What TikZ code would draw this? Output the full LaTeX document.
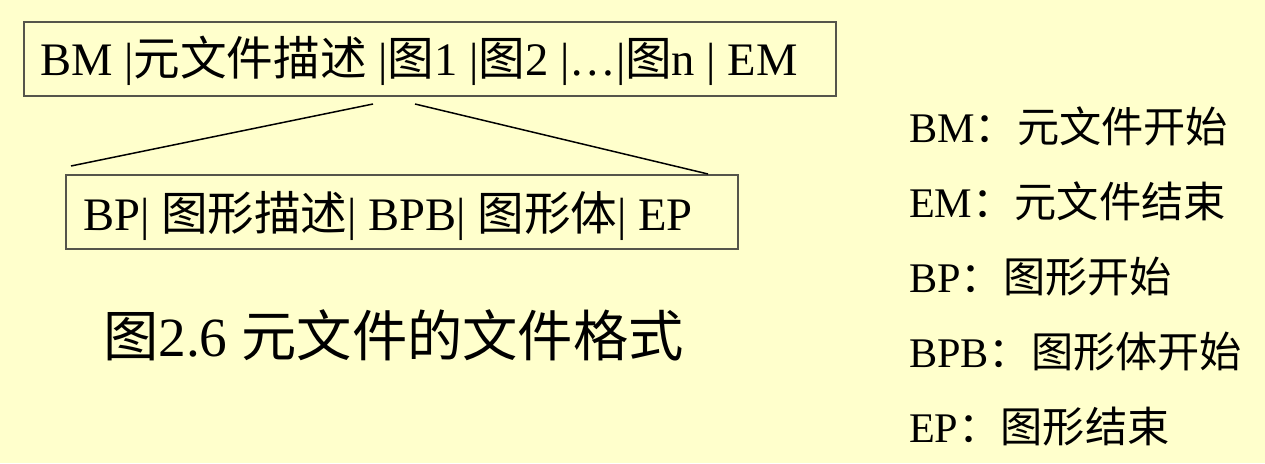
\documentclass[tikz,border=0pt]{standalone}
\usepackage{fontspec}
\setmainfont{Liberation Serif}
\newfontfamily\cjk{Noto Sans CJK SC}
\definecolor{bgyellow}{RGB}{255,255,204}
\definecolor{boxline}{RGB}{85,85,75}
\begin{document}
\begin{tikzpicture}[x=1pt,y=-1pt,
  framebox/.style={draw=boxline, line width=1.6pt, inner sep=0pt, anchor=north west},
  bigtxt/.style={anchor=base west, inner sep=0pt, font=\fontsize{46.6}{50}\selectfont},
  captxt/.style={anchor=base west, inner sep=0pt, font=\fontsize{55.3}{60}\selectfont},
  legtxt/.style={anchor=base west, inner sep=0pt, font=\fontsize{42.2}{46}\selectfont},
  conn/.style={draw=black, line width=1.5pt}]
\fill[bgyellow] (0,0) rectangle (1265,463);
\useasboundingbox (0,0) rectangle (1265,463);
% top box
\node[framebox, minimum width=812pt, minimum height=74pt] (topbox) at (23,21) {};
\node[bigtxt] (toptxt) at (40,75) {BM |{\cjk 元文件描述} |{\cjk 图}1 |{\cjk 图}2 |…|{\cjk 图}n | EM};
% bottom box
\node[framebox, minimum width=672pt, minimum height=74pt] (botbox) at (65,174) {};
\node[bigtxt] (bottxt) at (83,230) {BP| {\cjk 图形描述}| BPB| {\cjk 图形体}| EP};
% connectors
\coordinate (las) at (373,104);
\coordinate (lae) at (71,166);
\coordinate (lbs) at (415,104);
\coordinate (lbe) at (708,174);
\draw[conn] (las) -- (lae);
\draw[conn] (lbs) -- (lbe);
% caption
\node[captxt] (cap) at (103,356) {{\cjk 图}2.6 {\cjk 元文件的文件格式}};
% legend
\node[legtxt] (lg1) at (909,142) {BM{\cjk ：元文件开始}};
\node[legtxt] (lg2) at (909,217) {EM{\cjk ：元文件结束}};
\node[legtxt] (lg3) at (909,292) {BP{\cjk ：图形开始}};
\node[legtxt] (lg4) at (909,367) {BPB{\cjk ：图形体开始}};
\node[legtxt] (lg5) at (909,442) {EP{\cjk ：图形结束}};
\end{tikzpicture}
\end{document}
